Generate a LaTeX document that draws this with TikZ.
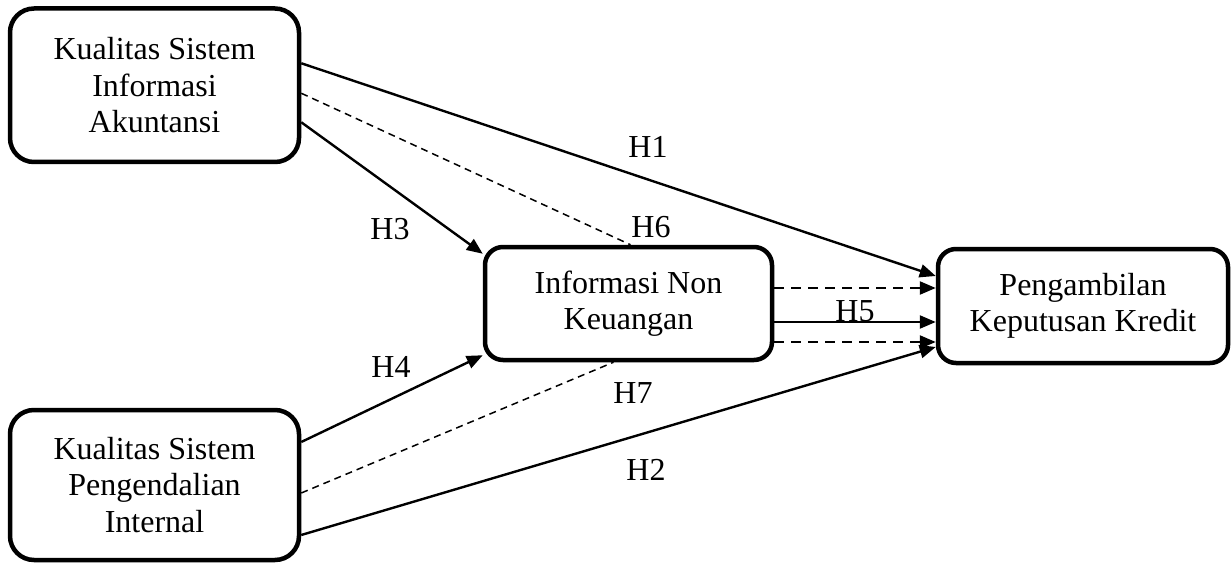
\documentclass[tikz,border=0pt]{standalone}
\usepackage{fontspec}
\setmainfont{Liberation Serif}
\usetikzlibrary{arrows.meta}

\tikzset{
  varbox/.style={draw, line width=4.5pt, rounded corners=24pt, align=center,
    inner sep=0pt, font=\fontsize{32}{36.5}\selectfont},
  medbox/.style={varbox, rounded corners=18pt},
  link/.style={line width=2.4pt, -{Triangle[length=16pt,width=13pt]}},
  thinlink/.style={line width=1.5pt, dash pattern=on 7pt off 5pt},
  dashlink/.style={line width=2.4pt, dash pattern=on 10pt off 7pt,
    -{Triangle[length=16pt,width=13pt]}},
  hlabel/.style={anchor=base, inner sep=0pt, font=\fontsize{32}{36.5}\selectfont}
}

\begin{document}
\begin{tikzpicture}[x=1pt, y=-1pt]
\useasboundingbox (0,0) rectangle (1231,564);

% variables
\node[varbox, minimum width=289pt, minimum height=153.5pt] (sia) at (154.5,85.25)
  {Kualitas Sistem\\Informasi\\Akuntansi};
\node[varbox, minimum width=289pt, minimum height=150pt] (spi) at (154.5,485)
  {Kualitas Sistem\\Pengendalian\\Internal};
\node[medbox, minimum width=287pt, minimum height=113pt] (inf) at (628.5,303.5)
  {Informasi Non\\Keuangan};
\node[medbox, minimum width=290pt, minimum height=114pt] (pkk) at (1083,306)
  {Pengambilan\\Keputusan Kredit};

% direct effects
\draw[link] ([yshift=22pt]sia.east) -- ([yshift=30pt]pkk.west);
\draw[link] ([yshift=-50pt]spi.east) -- ([yshift=-41pt]pkk.west);
\draw[link] ([yshift=-37pt]sia.east) -- ([yshift=-9pt]inf.north west);
\draw[link] ([yshift=43pt]spi.east) -- ([yshift=7pt]inf.south west);

% mediated paths
\draw[thinlink] ([yshift=-8pt]sia.east) -- ([xshift=2pt]inf.north);
\draw[thinlink] ([yshift=-8pt]spi.east) -- ([xshift=-15pt]inf.south);

% paths from the mediator to the decision
\draw[dashlink] ([yshift=15.5pt]inf.east) -- ([yshift=15.5pt]inf.east -| pkk.west);
\draw[link] ([yshift=-18.5pt]inf.east) -- ([yshift=-18.5pt]inf.east -| pkk.west);
\draw[dashlink] ([yshift=-38.5pt]inf.east) -- ([yshift=-38.5pt]inf.east -| pkk.west);

% hypothesis labels
\node[hlabel] (h1) at (648,158) {H1};
\node[hlabel] (h6) at (651,237) {H6};
\node[hlabel] (h3) at (390,239) {H3};
\node[hlabel] (h4) at (391,377) {H4};
\node[hlabel] (h7) at (633,403) {H7};
\node[hlabel] (h2) at (646,480) {H2};
\node[hlabel] (h5) at (855,321) {H5};
\end{tikzpicture}
\end{document}
